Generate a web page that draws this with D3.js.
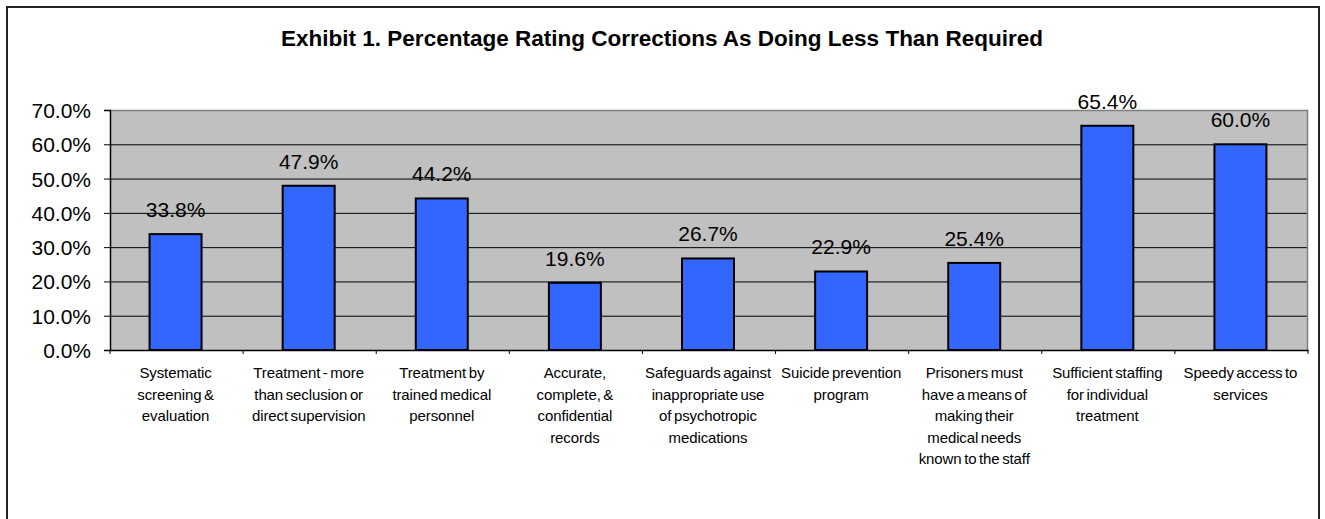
<!DOCTYPE html>
<html><head><meta charset="utf-8">
<script src="https://cdn.jsdelivr.net/npm/d3@7"></script>
<style>
html,body{margin:0;padding:0;background:#fff;}
svg{display:block;font-family:"Liberation Sans",Arial,sans-serif;}
</style></head>
<body>
<svg id="chart" width="1325" height="519"></svg>
<script>
const title = "Exhibit 1. Percentage Rating Corrections As Doing Less Than Required";
const categories = [
  ["Systematic","screening &","evaluation"],
  ["Treatment - more","than seclusion or","direct supervision"],
  ["Treatment by","trained medical","personnel"],
  ["Accurate,","complete, &","confidential","records"],
  ["Safeguards against","inappropriate use","of psychotropic","medications"],
  ["Suicide prevention","program"],
  ["Prisoners must","have a means of","making their","medical needs","known to the staff"],
  ["Sufficient staffing","for individual","treatment"],
  ["Speedy access to","services"]
];
const values = [33.8, 47.9, 44.2, 19.6, 26.7, 22.9, 25.4, 65.4, 60.0];
const valueLabels = ["33.8%","47.9%","44.2%","19.6%","26.7%","22.9%","25.4%","65.4%","60.0%"];
const yTicks = [0,10,20,30,40,50,60,70];

const svg = d3.select("#chart");
const L = 110, R = 1308, T = 110, B = 350;

// outer border
svg.append("rect").attr("x",7).attr("y",7).attr("width",1312).attr("height",530)
  .attr("fill","#fff").attr("stroke","#222").attr("stroke-width",2);

svg.append("text").attr("x",662).attr("y",46).attr("text-anchor","middle")
  .attr("font-weight","bold").attr("font-size",22.5).attr("fill","#000").text(title);

const idx = categories.map((d,i)=>i);
const x = d3.scaleBand().domain(idx).range([L,R]).paddingInner(0).paddingOuter(0);
const y = d3.scaleLinear().domain([0,70]).range([B,T]);

// plot background
svg.append("rect").attr("x",L).attr("y",T).attr("width",R-L).attr("height",B-T).attr("fill","#C0C0C0");

// gridlines
svg.append("g").selectAll("line").data(yTicks.filter(t=>t>0 && t<70)).join("line")
  .attr("x1",L).attr("x2",R).attr("y1",d=>y(d)+0.5).attr("y2",d=>y(d)+0.5)
  .attr("stroke","#000").attr("stroke-width",1);

// plot border top/right
svg.append("path").attr("d",`M${L},${T+0.5}H${R-0.5}V${B}`).attr("fill","none").attr("stroke","#808080").attr("stroke-width",1.5);

// y axis
const yAxis = d3.axisLeft(y).tickValues(yTicks).tickSize(6).tickPadding(13).tickFormat(d=>d.toFixed(1)+"%");
const gy = svg.append("g").attr("transform",`translate(${L},0)`).call(yAxis);
gy.select(".domain").attr("stroke","#000").attr("stroke-width",1.5);
gy.selectAll(".tick line").attr("stroke","#000");
gy.selectAll(".tick text").attr("font-size",21).attr("font-family","Liberation Sans, Arial, sans-serif").attr("fill","#000").attr("dy","0.36em");

// bars
const bw = 52;
svg.append("g").selectAll("rect").data(values).join("rect")
  .attr("x",(d,i)=>x(i)+x.bandwidth()/2-bw/2-1)
  .attr("y",d=>y(d))
  .attr("width",bw).attr("height",d=>B-y(d))
  .attr("fill","#3366FF").attr("stroke","#000").attr("stroke-width",2);

// value labels
svg.append("g").selectAll("text").data(values).join("text")
  .attr("x",(d,i)=>x(i)+x.bandwidth()/2-1)
  .attr("y",d=>y(d)-17)
  .attr("text-anchor","middle").attr("font-size",21).attr("fill","#000")
  .text((d,i)=>valueLabels[i]);

// x axis
const xAxis = d3.axisBottom(x).tickSize(0).tickFormat("");
const gx = svg.append("g").attr("transform",`translate(0,${B})`).call(xAxis);
gx.select(".domain").attr("stroke","#000").attr("stroke-width",1.5);
const bounds = idx.map(i=>x(i)).concat([R]);
gx.selectAll(".bt").data(bounds).join("line").attr("class","bt")
  .attr("x1",d=>d).attr("x2",d=>d).attr("y1",0).attr("y2",4).attr("stroke","#000");

// category labels
const cl = svg.append("g").selectAll("text").data(categories).join("text")
  .attr("text-anchor","middle").attr("font-size",15).attr("fill","#000")
  .attr("letter-spacing","-0.1").attr("word-spacing","-1.5");
cl.each(function(lines,i){
  d3.select(this).selectAll("tspan").data(lines).join("tspan")
    .attr("x",x(i)+x.bandwidth()/2-1)
    .attr("y",(d,j)=>378+j*21.5)
    .text(d=>d);
});
</script>
</body></html>
